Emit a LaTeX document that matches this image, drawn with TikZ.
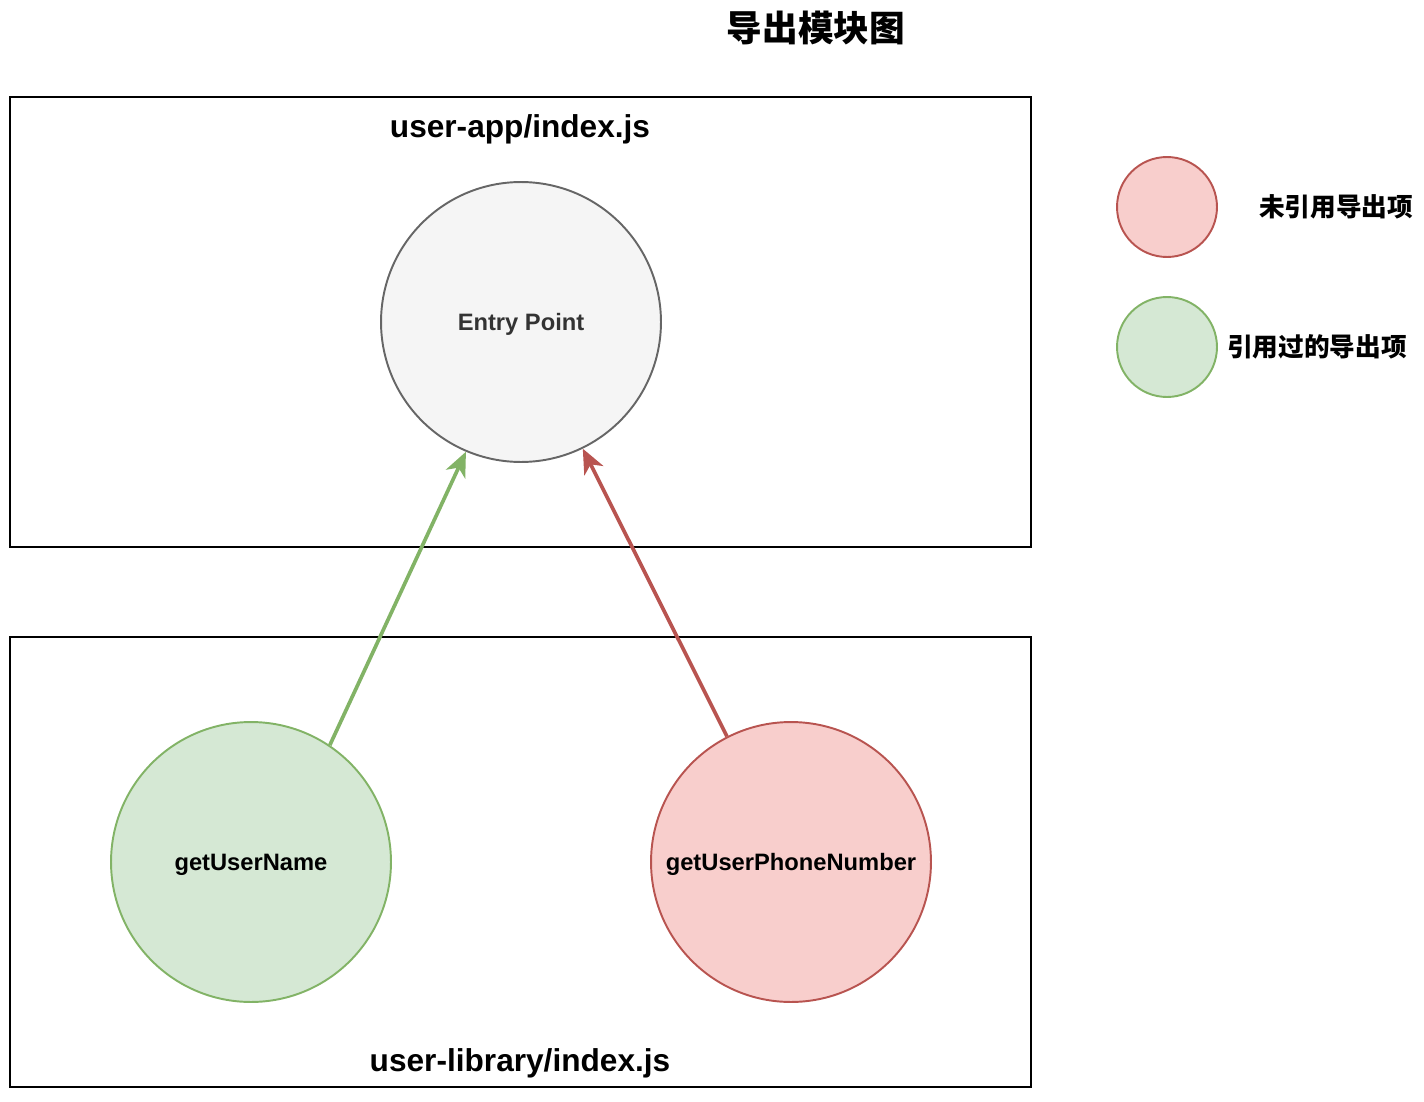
\documentclass[tikz,border=0pt]{standalone}
\usepackage{fontspec}
\setmainfont{Liberation Sans}
\newfontfamily\cjk{Noto Sans CJK SC}
\usetikzlibrary{arrows.meta}
\definecolor{UsedFill}{HTML}{D5E8D4}
\definecolor{UsedLine}{HTML}{82B366}
\definecolor{UnusedFill}{HTML}{F8CECC}
\definecolor{UnusedLine}{HTML}{B85450}
\definecolor{EntryFill}{HTML}{F5F5F5}
\definecolor{EntryLine}{HTML}{666666}
\definecolor{EntryText}{HTML}{333333}

\begin{document}
\begin{tikzpicture}[
  x=0.02cm, y=-0.02cm,
  module/.style={draw=black, line width=1pt},
  export/.style={circle, minimum size=5.6cm, inner sep=0pt, line width=1.1pt, text depth=0pt, font=\fontsize{13.5}{16}\selectfont\bfseries},
  used/.style={export, draw=UsedLine, fill=UsedFill},
  unused/.style={export, draw=UnusedLine, fill=UnusedFill},
  legend/.style={circle, minimum size=2cm, inner sep=0pt, line width=1.1pt},
  title/.style={font=\fontsize{18}{22}\selectfont\bfseries},
  cjktitle/.style={font=\cjk\fontsize{20.3}{24}\selectfont\bfseries},
  cjktext/.style={font=\cjk\fontsize{14.6}{18}\selectfont\bfseries},
  line/.style={-{Stealth[length=14pt, width=12pt, inset=4pt]}, line width=2.1pt}
]
\useasboundingbox (0,0) rectangle (1424,1102);

% modules
\draw[module] (10,97) rectangle (1031,547);
\draw[module] (10,637) rectangle (1031,1087);
\node[cjktitle] (heading) at (816,28) {导出模块图};
\node[title] (appname) at (520,129) {user-app/index.js};
\node[title] (libname) at (520,1063) {user-library/index.js};

% exports
\node[export, draw=EntryLine, fill=EntryFill, text=EntryText] (entry) at (521,322) {Entry Point};
\node[used] (username) at (251,862) {getUserName};
\node[unused] (phone) at (791,862) {getUserPhoneNumber};

% legend
\node[legend, draw=UnusedLine, fill=UnusedFill] (keyunused) at (1167,207) {};
\node[legend, draw=UsedLine, fill=UsedFill] (keyused) at (1167,347) {};
\node[cjktext] (keyunusedlabel) at (1336,207) {未引用导出项};
\node[cjktext] (keyusedlabel) at (1317,347) {引用过的导出项};

\draw[line, draw=UsedLine] (username.56) -- (entry.247);
\draw[line, draw=UnusedLine] (phone.117) -- (entry.296);
\end{tikzpicture}
\end{document}
